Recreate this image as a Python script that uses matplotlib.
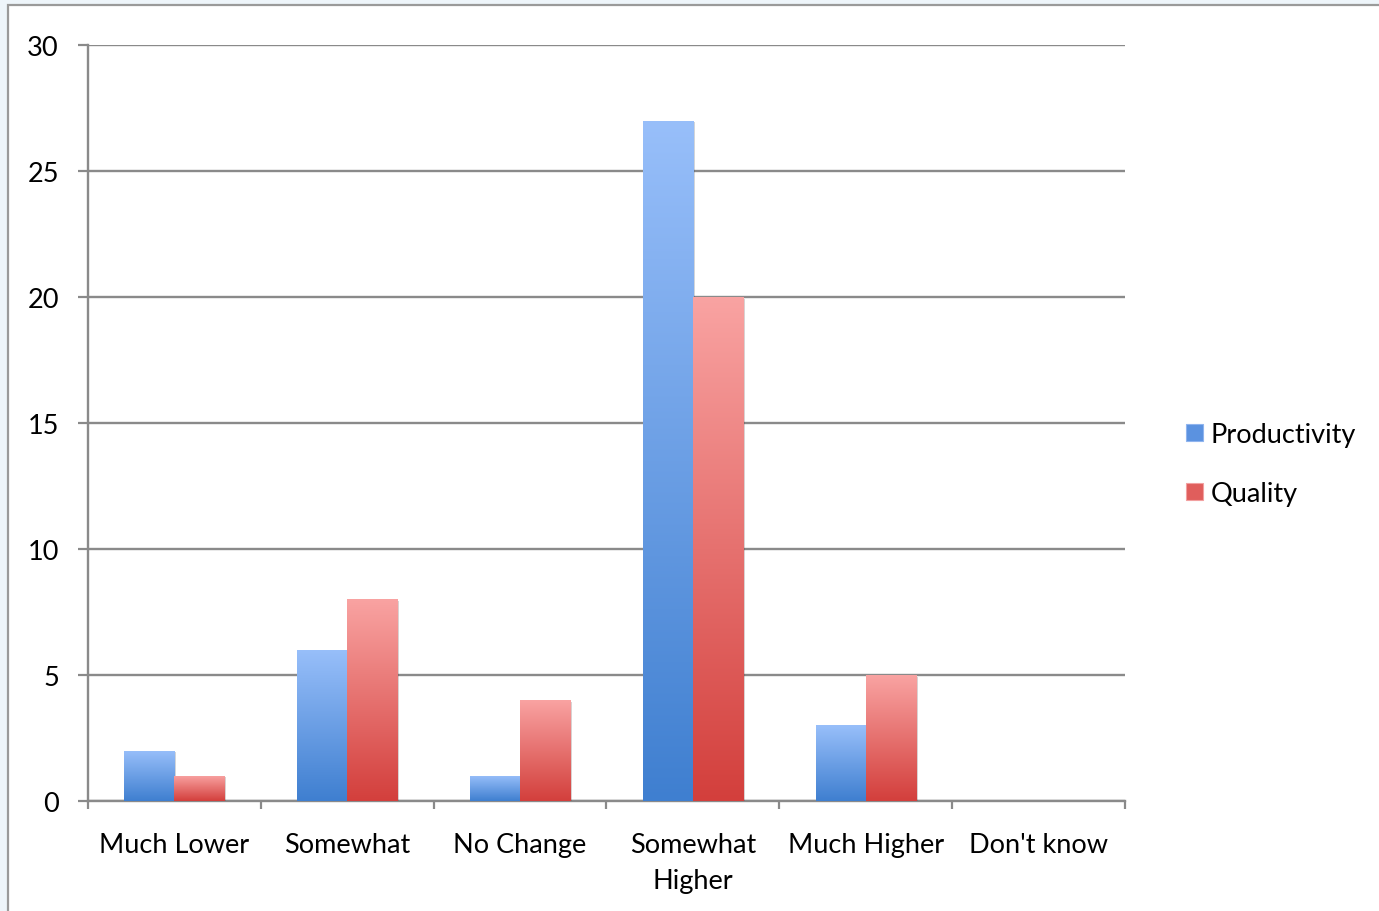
import numpy as np
import matplotlib
matplotlib.use("Agg")
import matplotlib.pyplot as plt
import matplotlib.patheffects as pe
from matplotlib.patches import Rectangle, Patch
from matplotlib.colors import LinearSegmentedColormap

categories = ["Much Lower", "Somewhat", "No Change", "Somewhat\nHigher", "Much Higher", "Don't know"]
productivity = [2, 6, 1, 27, 3, 0]
quality = [1, 8, 4, 20, 5, 0]
series_names = ["Productivity", "Quality"]
y_ticks = [0, 5, 10, 15, 20, 25, 30]

plt.rcParams["font.family"] = ["Lato", "DejaVu Sans"]

blue_cmap = LinearSegmentedColormap.from_list("blue_grad", ["#3f7fd0", "#98bffa"])
red_cmap = LinearSegmentedColormap.from_list("red_grad", ["#d33f3c", "#f9a3a2"])

fig = plt.figure(figsize=(13.79, 9.12), dpi=100)
fig.patch.set_facecolor("#eef5fa")
# white panel with a thin grey frame
fig.add_artist(Rectangle((8 / 1379, -0.01), 1.02, 1 - 6 / 912 + 0.01, transform=fig.transFigure,
                         facecolor="white", edgecolor="#9a9a9a", linewidth=1.6, zorder=0))

ax = fig.add_axes([88 / 1379, 110 / 912, (1125 - 88) / 1379, (802 - 46) / 912])
ax.set_facecolor("none")

x = np.arange(len(categories))
width = 0.29
grad = np.linspace(0, 1, 256).reshape(-1, 1)

for offset, vals, cmap in [(-width / 2, productivity, blue_cmap), (width / 2, quality, red_cmap)]:
    bars = ax.bar(x + offset, vals, width, color=cmap(0.4), linewidth=0, zorder=3,
                  path_effects=[pe.SimplePatchShadow(offset=(1.2, -1.2), alpha=0.2), pe.Normal()])
    for b in bars:
        h = b.get_height()
        if h <= 0:
            continue
        x0 = b.get_x()
        im = ax.imshow(grad, extent=(x0, x0 + b.get_width(), 0, h), origin="lower",
                       cmap=cmap, aspect="auto", zorder=4, interpolation="bilinear")
        im.set_clip_path(b)

ax.set_xlim(-0.5, len(categories) - 0.5)
ax.set_ylim(0, 30)
ax.set_yticks(y_ticks)
ax.yaxis.grid(True, color="#8a8a8a", linewidth=1.7, zorder=1)
ax.set_axisbelow(True)

ax.set_xticks(x)
ax.set_xticklabels(categories, fontsize=19.5, linespacing=1.55, va="top")
ax.set_xticks(np.arange(len(categories) + 1) - 0.5, minor=True)
ax.tick_params(axis="x", which="major", length=0, pad=22)
ax.tick_params(axis="x", which="minor", length=6, width=1.6, color="#8a8a8a")
ax.tick_params(axis="y", length=7, width=1.6, color="#8a8a8a", pad=14, labelsize=19.5)

for side in ["top", "right"]:
    ax.spines[side].set_visible(False)
for side in ["left", "bottom"]:
    ax.spines[side].set_color("#8a8a8a")
    ax.spines[side].set_linewidth(1.7)

handles = [Patch(facecolor="#5b92e0", edgecolor="#8fb4ee", linewidth=0.8),
           Patch(facecolor="#e05e5c", edgecolor="#f2a0a0", linewidth=0.8)]
fig.legend(handles, series_names, loc="center left", bbox_to_anchor=(1162 / 1379, 1 - 465 / 912),
           frameon=False, fontsize=19.5, handlelength=0.6, handleheight=0.6, handletextpad=0.3,
           labelspacing=1.25)

fig.savefig("out.png", dpi=100)
